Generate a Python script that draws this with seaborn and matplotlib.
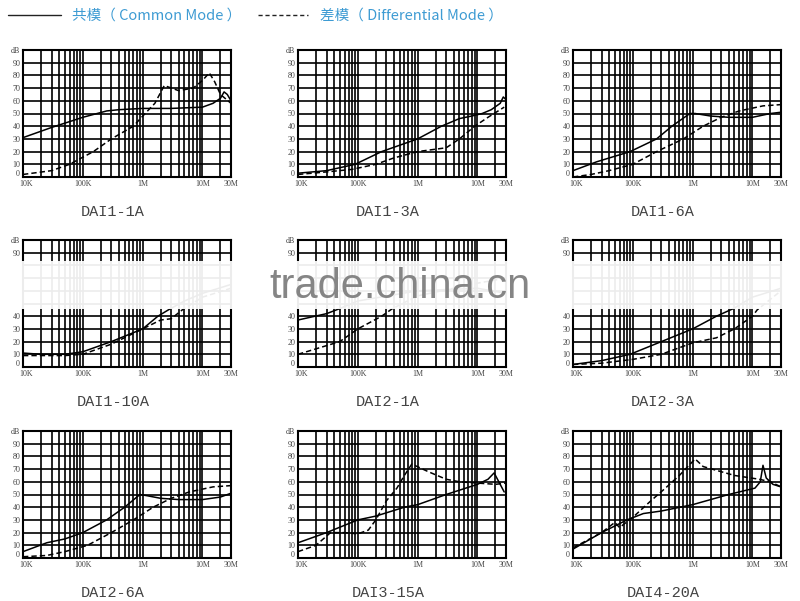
import numpy as np
import pandas as pd
import seaborn as sns
import matplotlib.pyplot as plt
import matplotlib.transforms as mtransforms
from matplotlib.lines import Line2D

sns.set_theme(style="white")
plt.rcParams['font.family'] = ['Liberation Serif', 'DejaVu Serif']

# panel names in reading order
titles = ["DAI1-1A", "DAI1-3A", "DAI1-6A",
          "DAI1-10A", "DAI2-1A", "DAI2-3A",
          "DAI2-6A", "DAI3-15A", "DAI4-20A"]

# common mode (solid) curves: frequency in Hz, attenuation in dB
cm_freq = [
    [1e4, 3e4, 1e5, 2.5e5, 4e5, 1e6, 3e6, 1e7, 1.5e7, 2e7, 2.3e7, 2.6e7, 3e7],
    [1e4, 3e4, 9e4, 2.5e5, 1e6, 2.5e6, 5e6, 8e6, 1.2e7, 1.7e7, 2.4e7, 2.7e7, 3e7],
    [1e4, 2.5e4, 9e4, 2.5e5, 4.5e5, 9e5, 1.1e6, 2e6, 4e6, 1e7, 2e7, 3e7],
    [1e4, 2e4, 5e4, 1e5, 3e5, 1e6, 1.8e6, 2.7e6, 5e6, 1e7, 3e7],
    [1e4, 3e4, 5e4, 1e5, 1e6, 1e7, 3e7],
    [1e4, 3e4, 9e4, 3e5, 1e6, 2.5e6, 4.8e6, 1e7, 3e7],
    [1e4, 2.5e4, 5e4, 1e5, 2.5e5, 5e5, 9e5, 1.2e6, 2e6, 4e6, 1e7, 2e7, 3e7],
    [1e4, 3e4, 1e5, 2e5, 6e5, 1e6, 3e6, 1e7, 1.5e7, 1.9e7, 2.8e7],
    [1e4, 3e4, 8e4, 1.5e5, 3e5, 1e6, 4e6, 1.1e7, 1.35e7, 1.5e7, 1.7e7, 2.2e7, 3e7],
]
cm_db = [
    [31, 39, 47, 52, 53, 54, 54, 55, 58, 62, 67, 65, 60],
    [3, 5, 10, 20, 30, 40, 46, 48, 50, 53, 58, 63, 61],
    [5, 12, 20, 30, 40, 50, 50, 48, 47, 47, 50, 51],
    [11, 10, 10, 12, 20, 30, 40, 45, 52, 58, 65],
    [37, 42, 46, 52, 60, 62, 58],
    [2, 5, 10, 20, 30, 40, 46, 55, 62],
    [5, 12, 15, 20, 30, 40, 50, 49, 47, 46, 46, 48, 51],
    [12, 20, 30, 33, 40, 42, 50, 58, 62, 67, 52],
    [7, 20, 30, 35, 37, 42, 50, 55, 60, 73, 63, 58, 56],
]

# differential mode (dashed) curves
dm_freq = [
    [1e4, 3e4, 6e4, 1.5e5, 3e5, 7e5, 1.1e6, 1.6e6, 2.3e6, 4e6, 7e6, 1e7, 1.3e7, 1.6e7, 2e7, 3e7],
    [1e4, 3e4, 8e4, 2e5, 4e5, 1e6, 3e6, 5e6, 9e6, 1.5e7, 2.8e7],
    [1e4, 2e4, 4e4, 1e5, 2.5e5, 7e5, 1.5e6, 3e6, 6e6, 1.5e7, 3e7],
    [1e4, 5e4, 1e5, 3e5, 1e6, 2e6, 3e6, 4.6e6, 1e7, 3e7],
    [1e4, 5e4, 1e5, 2.5e5, 3.8e5, 1e6, 1e7, 3e7],
    [1e4, 3e4, 1e5, 3e5, 1e6, 2.5e6, 5e6, 1e7, 1.2e7, 3e7],
    [1e4, 2.5e4, 5e4, 1.2e5, 3e5, 7e5, 1.5e6, 3e6, 6e6, 1.5e7, 3e7],
    [1e4, 2e4, 3.5e4, 6e4, 1e5, 1.5e5, 2e5, 3e5, 4.5e5, 6e5, 8e5, 1.5e6, 3e6, 5e6, 1e7, 2e7, 3e7],
    [1e4, 3e4, 5e4, 6e4, 1e5, 2e5, 3.5e5, 6e5, 1.1e6, 1.5e6, 5e6, 1.3e7, 2e7, 3e7],
]
dm_db = [
    [2, 5, 10, 20, 30, 40, 50, 58, 72, 68, 70, 76, 82, 75, 65, 58],
    [2, 4, 6, 10, 15, 20, 23, 30, 40, 47, 55],
    [0, 2, 5, 10, 20, 30, 40, 47, 52, 56, 57],
    [9, 9, 10, 18, 30, 37, 38, 45, 55, 62],
    [10, 20, 30, 40, 46, 56, 66, 70],
    [2, 3, 6, 10, 19, 23, 30, 40, 45, 60],
    [1, 2, 5, 10, 20, 30, 40, 47, 52, 56, 57],
    [5, 10, 20, 20, 19, 22, 30, 45, 55, 65, 74, 68, 62, 60, 59, 58, 59],
    [8, 20, 28, 24, 32, 45, 55, 65, 78, 72, 65, 62, 60, 56],
]

xtick_major = [1e4, 1e5, 1e6, 1e7, 3e7]
xtick_labels = ["10K", "100K", "1M", "10M", "30M"]
ytick_labels = ["0", "10", "20", "30", "40", "50", "60", "70", "80", "90", "dB"]
# the middle row's 50-80 labels sit under the watermark band
ytick_labels_hidden = ["0", "10", "20", "30", "40", "", "", "", "", "90", "dB"]

W, H = 800, 601
fig = plt.figure(figsize=(W / 100, H / 100), dpi=100)
fig.patch.set_facecolor("white")

col_left = [23, 298, 573]
row_top = [50, 240, 431]
ax_w, ax_h = 208, 127

minor = []
for dec in [1e4, 1e5, 1e6]:
    minor += [dec * k for k in range(2, 10)]
minor += [2e7]

for i, title in enumerate(titles):
    r, c = divmod(i, 3)
    x0, y0 = col_left[c], row_top[r]
    ax = fig.add_axes([x0 / W, 1 - (y0 + ax_h) / H, ax_w / W, ax_h / H])
    df = pd.concat([
        pd.DataFrame({"freq": cm_freq[i], "dB": cm_db[i], "mode": "CM"}),
        pd.DataFrame({"freq": dm_freq[i], "dB": dm_db[i], "mode": "DM"}),
    ])
    sns.lineplot(data=df, x="freq", y="dB", style="mode",
                 dashes={"CM": "", "DM": (3.5, 2)}, color="black",
                 linewidth=1.1, legend=False, ax=ax, zorder=3)
    ax.set_xscale("log")
    ax.set_xlim(1e4, 3e7)
    ax.set_ylim(0, 100)
    ax.set_xticks(xtick_major)
    ax.set_xticklabels(xtick_labels)
    ax.set_xticks(minor, minor=True)
    ax.set_yticks(range(0, 101, 10))
    ax.set_yticklabels(ytick_labels_hidden if r == 1 else ytick_labels)
    ax.grid(True, which="both", color="black", linewidth=1.2)
    ax.tick_params(which="both", length=0, labelsize=5.8, colors="#444444", pad=2)
    # corner labels: lift the "0" and nudge "10K" right so they don't collide
    ylab0 = ax.get_yticklabels()[0]
    ylab0.set_transform(ylab0.get_transform() +
                        mtransforms.ScaledTranslation(-1 / 100, 4 / 100, fig.dpi_scale_trans))
    xlab0 = ax.get_xticklabels()[0]
    xlab0.set_transform(xlab0.get_transform() +
                        mtransforms.ScaledTranslation(3 / 100, 0, fig.dpi_scale_trans))
    ax.set_xlabel("")
    ax.set_ylabel("")
    for s in ax.spines.values():
        s.set_color("black")
        s.set_linewidth(1.5)
    fig.text((x0 + ax_w / 2 - 14) / W, 1 - (y0 + 162) / H, title,
             ha="center", va="center", fontsize=11,
             family="Liberation Mono", color="#444444")

# header legend
blue = "#3d9bd3"
fig.add_artist(Line2D([8 / W, 61 / W], [1 - 15 / H] * 2, color="#222222", lw=1.0))
fig.text(72 / W, 1 - 16 / H, "共模（ Common Mode ）", fontsize=10.5, color=blue,
         va="center", family=["Noto Sans CJK SC", "DejaVu Sans"])
fig.add_artist(Line2D([258 / W, 308 / W], [1 - 15 / H] * 2, color="#222222",
                      lw=1.0, dashes=(3, 2)))
fig.text(320 / W, 1 - 16 / H, "差模（ Differential Mode ）", fontsize=10.5, color=blue,
         va="center", family=["Noto Sans CJK SC", "DejaVu Sans"])

# watermark band over the middle row
fig.add_artist(plt.Rectangle((0, 1 - 309 / H), 1, 48 / H, transform=fig.transFigure,
                             facecolor="white", alpha=0.93, edgecolor="none", zorder=10))
fig.text(400 / W, 1 - 287 / H, "trade.china.cn", fontsize=30, color="#858585",
         ha="center", va="center", family="Liberation Sans", zorder=11)

plt.savefig("out.png", dpi=100)
